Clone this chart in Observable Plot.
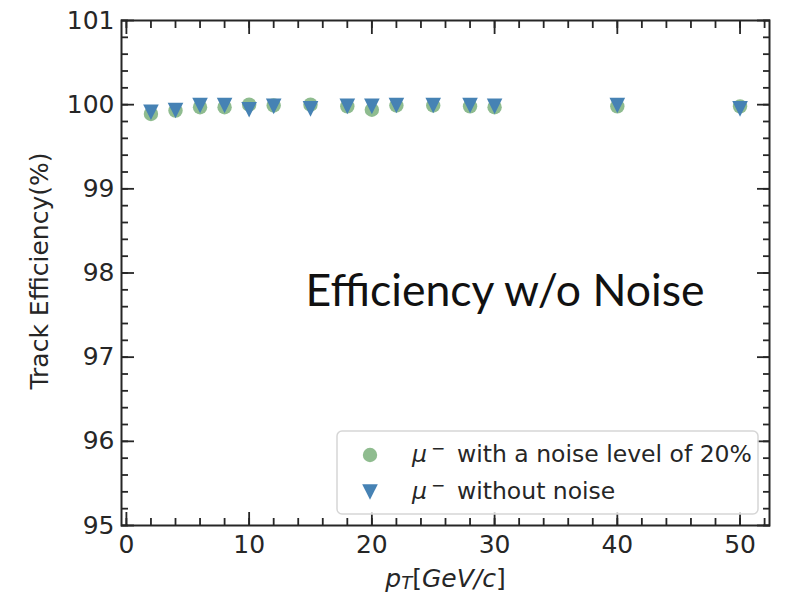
<!DOCTYPE html>
<html>
<head>
<meta charset="utf-8">
<script src="https://cdn.jsdelivr.net/npm/d3@7"></script>
<script src="https://cdn.jsdelivr.net/npm/@observablehq/plot@0.6"></script>
<style>
  body { margin: 0; background: #fff; }
  #chart { width: 791px; height: 596px; }
  #chart svg { display: block; overflow: visible; }
</style>
</head>
<body>
<div id="chart"></div>
<script>
// Transverse momentum points (GeV/c)
const pT = [2, 4, 6, 8, 10, 12, 15, 18, 20, 22, 25, 28, 30, 40, 50];
// Track efficiency (%) with 20% noise hits
const effNoise = [99.89, 99.93, 99.97, 99.97, 100.00, 99.99, 100.00, 99.98, 99.94, 99.99, 99.99, 99.98, 99.97, 99.98, 99.98];
// Track efficiency (%) without noise
const effClean = [99.91, 99.93, 99.99, 99.99, 99.94, 99.98, 99.95, 99.98, 99.98, 99.99, 99.99, 99.99, 99.98, 99.99, 99.95];

const legendLabels = ["with a noise level of 20%", "without noise"];
const xTicks = [0, 10, 20, 30, 40, 50];
const yTicks = [95, 96, 97, 98, 99, 100, 101];
const xMinorTicks = d3.range(0, 53, 2);
const yMinorTicks = d3.range(95, 101.01, 0.2).map(v => +v.toFixed(1));
const annotation = "Efficiency w/o Noise";
const yLabel = "Track Efficiency(%)";

const green = "#8fbc8f";
const blue = "#4682b4";
const ink = "#262626";

const rows = pT.map((x, i) => ({pT: x, noise: effNoise[i], clean: effClean[i]}));

// downward-pointing triangle, same footprint as a circle of radius r
const triangleDown = {
  draw(ctx, size) {
    const r = Math.sqrt(size / Math.PI);
    ctx.moveTo(-r, -r);
    ctx.lineTo(r, -r);
    ctx.lineTo(0, r);
    ctx.closePath();
  }
};

const tickStyle = {stroke: ink, strokeWidth: 1.8, fill: "none", label: null};

const chart = Plot.plot({
  width: 791,
  height: 596,
  marginLeft: 121,
  marginRight: 22,
  marginTop: 20,
  marginBottom: 71,
  x: {domain: [-0.4, 52.4]},
  y: {domain: [95, 101]},
  style: {fontFamily: "DejaVu Sans", fontSize: "25px", color: ink, background: "white"},
  marks: [
    Plot.dot(rows, {x: "pT", y: "noise", r: 7.2, fill: green}),
    Plot.dot(rows, {x: "pT", y: "clean", r: 7.8, symbol: triangleDown, fill: blue}),
    Plot.text([annotation], {x: 14.6, y: 97.78, text: d => d, textAnchor: "start",
      fontFamily: "Lato", fontSize: 44, fill: "#111"}),

    // tick labels
    Plot.axisY(yTicks, {anchor: "left", tickSize: 0, tickPadding: 7, label: null, fontSize: 25, fill: ink, tickFormat: d3.format("d")}),
    Plot.axisX(xTicks, {anchor: "bottom", tickSize: 0, tickPadding: 10, label: null, fontSize: 25, fill: ink, tickFormat: d3.format("d")}),

    // inward ticks on all four sides
    Plot.axisY(yTicks, {anchor: "left", tickSize: -13, ...tickStyle}),
    Plot.axisY(yMinorTicks, {anchor: "left", tickSize: -7, ...tickStyle}),
    Plot.axisY(yTicks, {anchor: "right", tickSize: -13, ...tickStyle}),
    Plot.axisY(yMinorTicks, {anchor: "right", tickSize: -7, ...tickStyle}),
    Plot.axisX(xTicks, {anchor: "bottom", tickSize: -13, ...tickStyle}),
    Plot.axisX(xMinorTicks, {anchor: "bottom", tickSize: -7, ...tickStyle}),
    Plot.axisX(xTicks, {anchor: "top", tickSize: -13, ...tickStyle}),
    Plot.axisX(xMinorTicks, {anchor: "top", tickSize: -7, ...tickStyle}),

    Plot.frame({stroke: ink, strokeWidth: 2})
  ]
});

document.getElementById("chart").appendChild(chart);

const svg = d3.select(chart);

// stretch the annotation to its set width
svg.selectAll("text").filter(function () { return this.textContent === annotation; })
  .attr("textLength", 399).attr("lengthAdjust", "spacingAndGlyphs");

// y-axis title
svg.append("text")
  .attr("transform", "translate(48,271) rotate(-90)")
  .attr("text-anchor", "middle")
  .attr("font-family", "DejaVu Sans")
  .attr("font-size", 25)
  .attr("fill", ink)
  .text(yLabel);

// x-axis title: p_T[GeV/c]
const xt = svg.append("text")
  .attr("x", 445.5).attr("y", 587)
  .attr("text-anchor", "middle")
  .attr("font-family", "DejaVu Sans")
  .attr("font-size", 25)
  .attr("fill", ink);
xt.append("tspan").attr("font-style", "italic").text("p");
xt.append("tspan").attr("font-style", "italic").attr("font-size", 18).attr("dy", 2).text("T");
xt.append("tspan").attr("dy", -2).text("[");
xt.append("tspan").attr("font-style", "italic").text("GeV/c");
xt.append("tspan").text("]");

// legend
const lg = svg.append("g").attr("text-anchor", "start");
lg.append("rect")
  .attr("x", 337).attr("y", 431).attr("width", 421).attr("height", 83).attr("rx", 5)
  .attr("fill", "white").attr("fill-opacity", 0.8)
  .attr("stroke", "#d6d6d6").attr("stroke-width", 1.5);

const entries = [
  {label: legendLabels[0], color: green, symbol: d3.symbolCircle, r: 7.2},
  {label: legendLabels[1], color: blue, symbol: triangleDown, r: 7.8}
];
entries.forEach((e, i) => {
  const cy = 455 + i * 37;
  lg.append("path")
    .attr("transform", `translate(370,${cy})`)
    .attr("d", d3.symbol(e.symbol, e.r * e.r * Math.PI)())
    .attr("fill", e.color);
  const t = lg.append("text")
    .attr("x", 412).attr("y", cy + 7)
    .attr("text-anchor", "start")
    .attr("font-family", "DejaVu Sans")
    .attr("font-size", 23.5)
    .attr("fill", ink);
  t.append("tspan").attr("font-style", "italic").text("μ");
  t.append("tspan").attr("font-size", 17).attr("dx", 4).attr("dy", -8).text("−");
  t.append("tspan").attr("x", 457).attr("dy", 8).text(e.label);
});
</script>
</body>
</html>
